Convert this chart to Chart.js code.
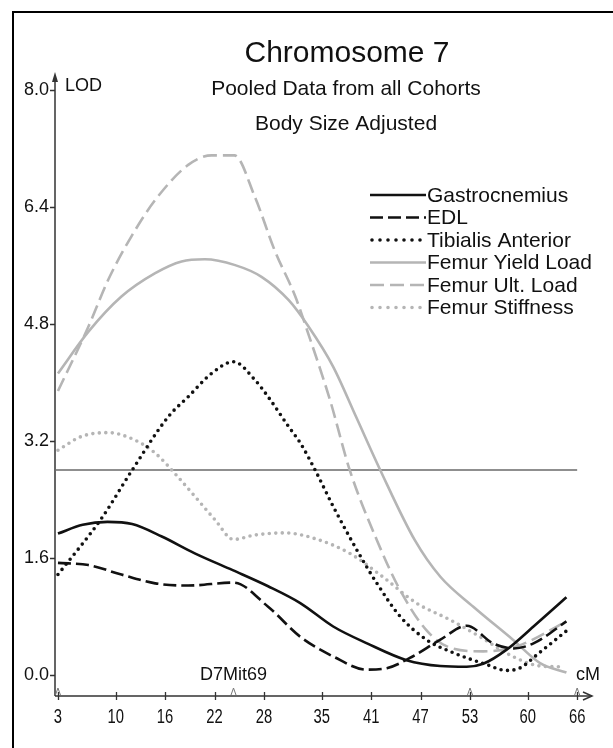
<!DOCTYPE html>
<html>
<head>
<meta charset="utf-8">
<script src="https://cdn.jsdelivr.net/npm/chart.js@4.4.0/dist/chart.umd.min.js"></script>
<style>
  html, body { margin: 0; padding: 0; background: #fff; }
  #wrap { width: 613px; height: 748px; }
</style>
</head>
<body>
<div id="wrap"><canvas id="qtl" width="613" height="748"></canvas></div>
<script>
// ---- data: [cM, LOD] ----
const xTicks = [3, 10, 16, 22, 28, 35, 41, 47, 53, 60, 66];
const yTicks = [0.0, 1.6, 3.2, 4.8, 6.4, 8.0];
const markers = [3, 24.3, 53, 66];
const markerLabel = 'D7Mit69';
const threshold = 2.8;
const seriesNames = ['Gastrocnemius', 'EDL', 'Tibialis Anterior', 'Femur Yield Load', 'Femur Ult. Load', 'Femur Stiffness'];

const gastrocnemius = [[3,1.93],[6,2.05],[9,2.09],[12,2.06],[15.6,1.89],[19.6,1.66],[24.2,1.43],[28.5,1.21],[32.4,0.98],[36.4,0.66],[40.5,0.43],[45.3,0.2],[49.4,0.12],[52.6,0.11],[54.6,0.15],[57.4,0.34],[60.7,0.66],[64.7,1.06]];
const edl = [[3,1.53],[6.7,1.5],[10.7,1.37],[14.8,1.25],[18.8,1.22],[24.3,1.26],[28.5,0.93],[32.4,0.52],[36.4,0.25],[40.5,0.07],[42.9,0.09],[45.7,0.23],[49.4,0.48],[52.6,0.67],[55.8,0.43],[58.3,0.36],[60.7,0.43],[64.7,0.73]];
const tibialis = [[3,1.37],[8.3,2.14],[11.9,2.78],[16.4,3.53],[18.8,3.8],[21.65,4.12],[24.3,4.28],[26.9,4.03],[28.5,3.8],[31,3.39],[32.4,3.17],[34.2,2.8],[36.4,2.3],[39.5,1.66],[41.7,1.25],[44.5,0.8],[47.7,0.48],[51,0.3],[55,0.14],[57.4,0.06],[59,0.09],[61.4,0.3],[64.7,0.6]];
const femurYield = [[3,4.12],[6.7,4.69],[10.7,5.17],[14.8,5.49],[18,5.65],[20.8,5.68],[24.5,5.6],[27.7,5.44],[31,5.12],[33.4,4.76],[36.4,4.21],[39.2,3.52],[42.1,2.8],[46.3,1.84],[49.4,1.34],[53.4,0.93],[58.2,0.48],[61.5,0.16],[64.7,0.03]];
const femurUlt = [[3,3.88],[6.7,4.76],[9.1,5.4],[11.9,5.99],[14.8,6.49],[18.8,6.97],[21.65,7.1],[24.4,7.1],[26.9,6.53],[29.3,5.8],[31.8,5.17],[33.5,4.62],[36,3.76],[38.4,2.8],[41.7,1.84],[44.5,1.16],[47.7,0.61],[50.6,0.37],[54.6,0.32],[58.7,0.39],[64.7,0.73]];
const femurStiff = [[3,3.07],[5.9,3.26],[9.1,3.31],[12.3,3.21],[14.8,3.03],[17.2,2.75],[19.6,2.44],[22.05,2.12],[24.3,1.85],[26.9,1.91],[30.5,1.94],[34.5,1.85],[38.4,1.66],[42.4,1.34],[46.5,0.98],[50.6,0.75],[54.2,0.52],[58.2,0.25],[61.5,0.12],[63.8,0.11]];

const xMin = 2.64, xMax = 67.8;
const yMin = -0.29, yMax = 8.24;

const BLACK = '#111';
const GREY = '#b5b5b5';
const FONT = "'Liberation Sans', Arial, sans-serif";

function toXY(pts) {
    return pts.map(p => ({ x: p[0], y: p[1] }));
}
function series(label, pts, color, dash, width) {
    return {
        label: label,
        data: toXY(pts),
        borderColor: color,
        borderWidth: width,
        borderDash: dash,
        borderCapStyle: dash.length && dash[0] === 0 ? 'round' : 'butt',
        borderJoinStyle: 'round',
        pointRadius: 0,
        fill: false,
        cubicInterpolationMode: 'monotone'
    };
}

const datasets = [
    series(seriesNames[0], gastrocnemius, BLACK, [], 2.6),
    series(seriesNames[1], edl, BLACK, [13, 5], 2.6),
    series(seriesNames[2], tibialis, BLACK, [0, 6.5], 3.6),
    series(seriesNames[3], femurYield, GREY, [], 2.6),
    series(seriesNames[4], femurUlt, GREY, [14, 6], 2.6),
    series(seriesNames[5], femurStiff, GREY, [0, 6.5], 3.6),
    {
        label: 'threshold',
        data: [{ x: xMin, y: threshold }, { x: 66, y: threshold }],
        borderColor: '#6a6a6a',
        borderWidth: 1.4,
        pointRadius: 0,
        fill: false,
        tension: 0
    }
];

// titles, axes with arrows, markers and legend
const decor = {
    id: 'decor',
    beforeDatasetsDraw(chart) {
        const { ctx, chartArea: a, scales: { x, y } } = chart;
        ctx.save();
        // frame (top + left)
        ctx.strokeStyle = '#000';
        ctx.lineWidth = 2;
        ctx.beginPath();
        ctx.moveTo(13, 748);
        ctx.lineTo(13, 12);
        ctx.lineTo(613, 12);
        ctx.stroke();

        // titles
        ctx.fillStyle = '#111';
        ctx.textAlign = 'center';
        ctx.textBaseline = 'middle';
        ctx.font = '30px ' + FONT;
        ctx.fillText('Chromosome 7', 347, 54);
        ctx.font = '21px ' + FONT;
        ctx.fillText('Pooled Data from all Cohorts', 346, 89);
        ctx.fillText('Body Size Adjusted', 346, 124);

        // axes
        ctx.strokeStyle = '#333';
        ctx.fillStyle = '#333';
        ctx.lineWidth = 1.5;
        ctx.beginPath();
        ctx.moveTo(a.left, a.bottom);
        ctx.lineTo(a.left, a.top + 6);
        ctx.moveTo(a.left, a.bottom);
        ctx.lineTo(a.right, a.bottom);
        ctx.stroke();
        // y arrow
        ctx.beginPath();
        ctx.moveTo(a.left, a.top);
        ctx.lineTo(a.left - 3, a.top + 10);
        ctx.lineTo(a.left + 3, a.top + 10);
        ctx.closePath();
        ctx.fill();
        // x arrow (open)
        ctx.beginPath();
        ctx.moveTo(a.right - 9, a.bottom - 4);
        ctx.lineTo(a.right, a.bottom);
        ctx.lineTo(a.right - 9, a.bottom + 4);
        ctx.stroke();

        // tick marks
        ctx.lineWidth = 1.3;
        ctx.beginPath();
        yTicks.forEach(v => {
            const py = Math.round(y.getPixelForValue(v)) + 0.5;
            ctx.moveTo(a.left - 5, py);
            ctx.lineTo(a.left, py);
        });
        xTicks.forEach(v => {
            const px = Math.round(x.getPixelForValue(v)) + 0.5;
            ctx.moveTo(px, a.bottom - 4);
            ctx.lineTo(px, a.bottom + 4);
        });
        ctx.stroke();

        // x tick labels, condensed like the original
        ctx.fillStyle = '#111';
        ctx.font = '20px ' + FONT;
        ctx.textAlign = 'center';
        xTicks.forEach(v => {
            ctx.save();
            ctx.translate(x.getPixelForValue(v), a.bottom + 21);
            ctx.scale(0.74, 1);
            ctx.fillText(String(v), 0, 0);
            ctx.restore();
        });

        // marker carets
        ctx.strokeStyle = '#777';
        ctx.lineWidth = 1;
        ctx.beginPath();
        markers.forEach(v => {
            const px = x.getPixelForValue(v);
            ctx.moveTo(px - 2.5, a.bottom - 1);
            ctx.lineTo(px, a.bottom - 8);
            ctx.lineTo(px + 2.5, a.bottom - 1);
        });
        ctx.stroke();

        // axis words
        ctx.fillStyle = '#111';
        ctx.font = '18px ' + FONT;
        ctx.textAlign = 'left';
        ctx.fillText('LOD', a.left + 10, 86);
        ctx.textAlign = 'center';
        ctx.fillText('cM', 588, 675);
        ctx.fillText(markerLabel, x.getPixelForValue(markers[1]), 675);
        ctx.restore();
    },
    afterDatasetsDraw(chart) {
        const { ctx } = chart;
        ctx.save();
        const rowY = [195, 217.5, 240, 262.5, 285, 307.5];
        seriesNames.forEach((name, i) => {
            const ds = chart.data.datasets[i];
            const dotted = ds.borderDash[0] === 0;
            ctx.strokeStyle = ds.borderColor;
            ctx.lineWidth = ds.borderWidth;
            ctx.lineCap = ds.borderCapStyle;
            ctx.setLineDash(dotted ? [0, 8] : ds.borderDash);
            ctx.beginPath();
            ctx.moveTo(dotted ? 372 : 370, rowY[i]);
            ctx.lineTo(dotted ? 424 : 426, rowY[i]);
            ctx.stroke();
            ctx.setLineDash([]);
            ctx.fillStyle = '#111';
            ctx.font = '21px ' + FONT;
            ctx.textAlign = 'left';
            ctx.textBaseline = 'middle';
            ctx.fillText(name, 427, rowY[i] + 1);
        });
        ctx.restore();
    }
};

new Chart(document.getElementById('qtl'), {
    type: 'line',
    data: { datasets: datasets },
    options: {
        responsive: false,
        animation: false,
        devicePixelRatio: 1,
        layout: { padding: { left: 0, right: 21, top: 72, bottom: 22 } },
        plugins: { legend: { display: false }, tooltip: { enabled: false } },
        scales: {
            x: {
                type: 'linear',
                min: xMin,
                max: xMax,
                afterBuildTicks: s => { s.ticks = xTicks.map(v => ({ value: v })); },
                afterFit: s => { s.height = 30; },
                grid: { display: false, drawTicks: false },
                border: { display: false },
                ticks: { display: false }
            },
            y: {
                type: 'linear',
                min: yMin,
                max: yMax,
                afterBuildTicks: s => { s.ticks = yTicks.map(v => ({ value: v })); },
                afterFit: s => { s.width = 55; },
                grid: { display: false, drawTicks: false },
                border: { display: false },
                ticks: {
                    padding: 6,
                    color: '#111',
                    font: { family: FONT, size: 18 },
                    callback: v => Number(v).toFixed(1)
                }
            }
        }
    },
    plugins: [decor]
});
</script>
</body>
</html>
